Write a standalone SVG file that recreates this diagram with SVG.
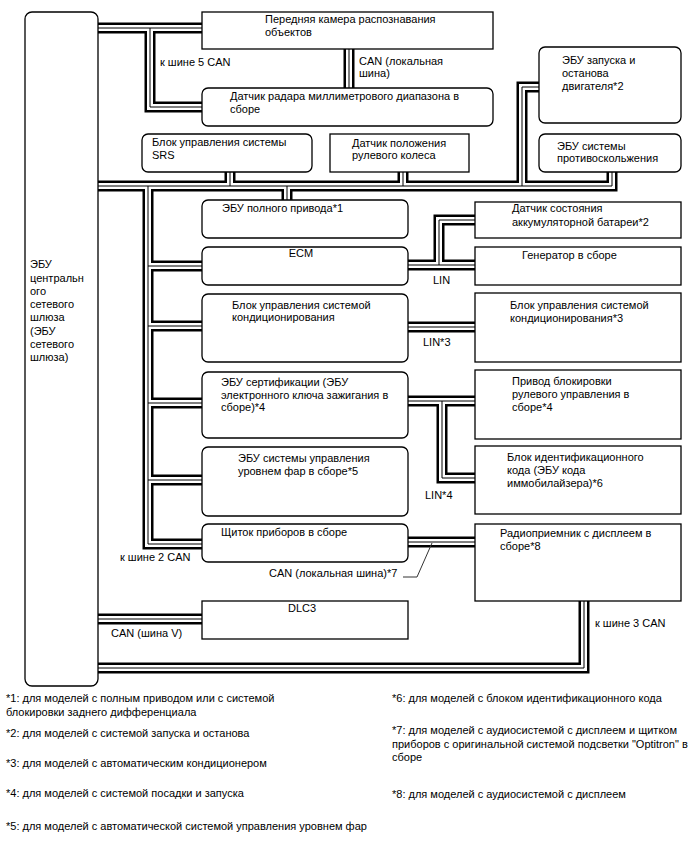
<svg xmlns="http://www.w3.org/2000/svg" xmlns:xlink="http://www.w3.org/1999/xlink" width="690" height="852" viewBox="0 0 690 852">
<style>
text{font-family:"Liberation Sans",Arial,sans-serif;font-size:11px;fill:#000}
.fn{font-size:11px}
.box{fill:#fff;stroke:#000;stroke-width:1.3}
.bk{fill:none;stroke:#000;stroke-width:11;stroke-linejoin:miter}
.wh{fill:none;stroke:#fff;stroke-width:6;stroke-linejoin:miter}
.ct{fill:none;stroke:#000;stroke-width:1;stroke-linejoin:miter}
.mid{text-anchor:middle}
</style>
<defs>
<path id="bus" d="M98,28 H202 M150,28 V107 H202 M349,49 V88
M98,186 H612 V172 M230,186 V172 M287,186 V200 M403,186 V172 M522,186 V87 H539
M148,186 V544 H202 M148,266 H202 M148,326 H202 M148,403 H202 M148,480 H202
M408,265 H475 M439,265 V220 H475 M408,327 H475 M408,401 H475 M442,401 V478 H475
M408,542 H475 M98,619 H202 M98,668 H584 V601"/>
</defs>
<g id="connectors">
<use xlink:href="#bus" class="bk"/>
<use xlink:href="#bus" class="wh"/>
<use xlink:href="#bus" class="ct"/>
<polyline points="403,577 417,577 432,543" fill="none" stroke="#333" stroke-width="1"/>
</g>
<g id="labels">
<text x="160" y="66">к шине 5 CAN</text>
<text x="359" y="65">CAN (локальная</text>
<text x="359" y="77">шина)</text>
<text x="433" y="284">LIN</text>
<text x="423" y="346">LIN*3</text>
<text x="425" y="499">LIN*4</text>
<text x="120" y="561">к шине 2 CAN</text>
<text x="269" y="577">CAN (локальная шина)*7</text>
<text x="111" y="637">CAN (шина V)</text>
<text x="595" y="627">к шине 3 CAN</text>
</g>
<g id="gateway">
<rect class="box" x="25" y="12" width="73" height="674" rx="7"/>
<text x="30" y="268">ЭБУ</text>
<text x="30" y="281.5">центральн</text>
<text x="30" y="295">ого</text>
<text x="30" y="308">сетевого</text>
<text x="30" y="321">шлюза</text>
<text x="30" y="334.5">(ЭБУ</text>
<text x="30" y="348">сетевого</text>
<text x="30" y="361">шлюза)</text>
</g>
<g id="camera">
<rect class="box" x="202" y="12" width="291" height="37"/>
<text x="265" y="23">Передняя камера распознавания</text>
<text x="265" y="36">объектов</text>
</g>
<g id="radar">
<rect class="box" x="202" y="88" width="291" height="38" rx="6"/>
<text x="230" y="100">Датчик радара миллиметрового диапазона в</text>
<text x="230" y="113">сборе</text>
</g>
<g id="srs">
<rect class="box" x="142" y="134" width="170" height="38" rx="6"/>
<text x="152" y="146">Блок управления системы</text>
<text x="152" y="159">SRS</text>
</g>
<g id="steering-sensor">
<rect class="box" x="330" y="134" width="139" height="38"/>
<text x="352" y="147">Датчик положения</text>
<text x="352" y="159">рулевого колеса</text>
</g>
<g id="start-stop">
<rect class="box" x="539" y="47" width="142" height="76" rx="6"/>
<text x="562" y="64">ЭБУ запуска и</text>
<text x="562" y="77">останова</text>
<text x="562" y="90">двигателя*2</text>
</g>
<g id="antiskid">
<rect class="box" x="539" y="134" width="142" height="38" rx="6"/>
<text x="557" y="150">ЭБУ системы</text>
<text x="557" y="162">противоскольжения</text>
</g>
<g id="awd">
<rect class="box" x="202" y="200" width="206" height="38" rx="6"/>
<text x="222" y="212">ЭБУ полного привода*1</text>
</g>
<g id="ecm">
<rect class="box" x="202" y="247" width="206" height="38" rx="6"/>
<text class="mid" x="301" y="257">ECM</text>
</g>
<g id="ac">
<rect class="box" x="202" y="294" width="206" height="68" rx="6"/>
<text x="232" y="309">Блок управления системой</text>
<text x="232" y="321">кондиционирования</text>
</g>
<g id="cert">
<rect class="box" x="202" y="372" width="206" height="66" rx="6"/>
<text x="221" y="386">ЭБУ сертификации (ЭБУ</text>
<text x="221" y="398.5">электронного ключа зажигания в</text>
<text x="221" y="411">сборе)*4</text>
</g>
<g id="headlamp">
<rect class="box" x="202" y="447" width="206" height="69" rx="6"/>
<text x="238" y="462">ЭБУ системы управления</text>
<text x="238" y="475">уровнем фар в сборе*5</text>
</g>
<g id="cluster">
<rect class="box" x="202" y="524" width="206" height="38" rx="6"/>
<text x="221" y="536">Щиток приборов в сборе</text>
</g>
<g id="dlc3">
<rect class="box" x="202" y="601" width="206" height="38"/>
<text class="mid" x="302" y="612">DLC3</text>
</g>
<g id="battery">
<rect class="box" x="475" y="202" width="206" height="36"/>
<text x="512" y="212">Датчик состояния</text>
<text x="512" y="226">аккумуляторной батареи*2</text>
</g>
<g id="generator">
<rect class="box" x="475" y="247" width="206" height="38"/>
<text x="522" y="259">Генератор в сборе</text>
</g>
<g id="ac3">
<rect class="box" x="475" y="293" width="206" height="69"/>
<text x="510" y="309">Блок управления системой</text>
<text x="510" y="322">кондиционирования*3</text>
</g>
<g id="steering-lock">
<rect class="box" x="475" y="370" width="206" height="69"/>
<text x="512" y="385">Привод блокировки</text>
<text x="512" y="398">рулевого управления в</text>
<text x="512" y="411">сборе*4</text>
</g>
<g id="immobiliser">
<rect class="box" x="475" y="446" width="206" height="68"/>
<text x="507" y="461">Блок идентификационного</text>
<text x="507" y="474">кода (ЭБУ кода</text>
<text x="507" y="487">иммобилайзера)*6</text>
</g>
<g id="radio">
<rect class="box" x="475" y="524" width="206" height="77"/>
<text x="500" y="537">Радиоприемник с дисплеем в</text>
<text x="500" y="550">сборе*8</text>
</g>
<g id="footnotes">
<text class="fn" x="6" y="702">*1: для моделей с полным приводом или с системой</text>
<text class="fn" x="6" y="716">блокировки заднего дифференциала</text>
<text class="fn" x="6" y="737">*2: для моделей с системой запуска и останова</text>
<text class="fn" x="6" y="767">*3: для моделей с автоматическим кондиционером</text>
<text class="fn" x="6" y="797">*4: для моделей с системой посадки и запуска</text>
<text class="fn" x="6" y="830">*5: для моделей с автоматической системой управления уровнем фар</text>
<text class="fn" x="392" y="702">*6: для моделей с блоком идентификационного кода</text>
<text class="fn" x="392" y="734">*7: для моделей с аудиосистемой с дисплеем и щитком</text>
<text class="fn" x="392" y="748">приборов с оригинальной системой подсветки "Optitron" в</text>
<text class="fn" x="392" y="761">сборе</text>
<text class="fn" x="392" y="798">*8: для моделей с аудиосистемой с дисплеем</text>
</g>
</svg>
